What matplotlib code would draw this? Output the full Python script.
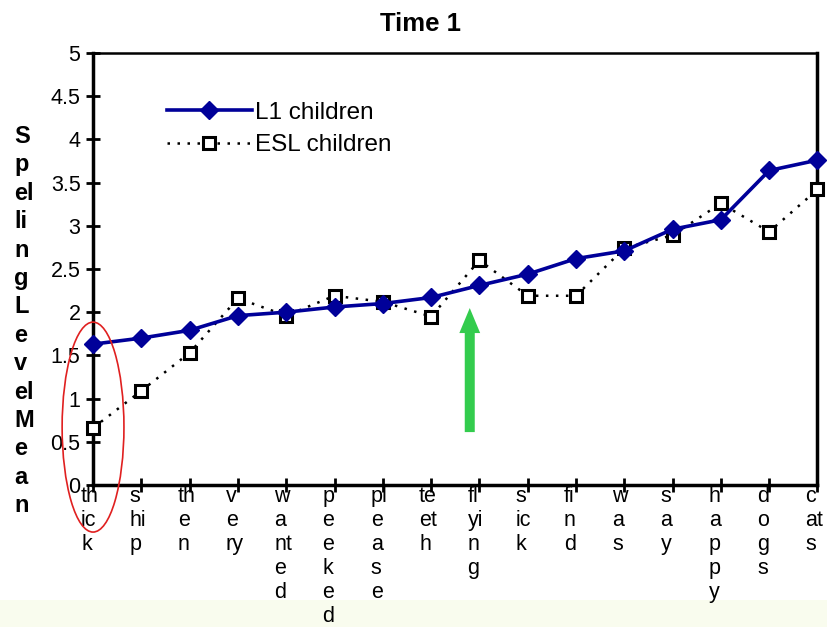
import matplotlib
matplotlib.use("Agg")
import matplotlib.pyplot as plt
from matplotlib.patches import Ellipse, Rectangle
from matplotlib.transforms import ScaledTranslation

# ── data ──────────────────────────────────────────────
words = ["thick", "ship", "then", "very", "wanted", "peeked", "please", "teeth",
         "flying", "sick", "find", "was", "say", "happy", "dogs", "cats"]
tick_labels = ["th\nic\nk", "s\nhi\np", "th\ne\nn", "v\ne\nry", "w\na\nnt\ne\nd",
               "p\ne\ne\nk\ne\nd", "pl\ne\na\ns\ne", "te\net\nh", "fl\nyi\nn\ng",
               "s\nic\nk", "fi\nn\nd", "w\na\ns", "s\na\ny", "h\na\np\np\ny",
               "d\no\ng\ns", "c\nat\ns"]
l1_children = [1.63, 1.70, 1.79, 1.96, 2.00, 2.06, 2.10, 2.17,
               2.31, 2.44, 2.62, 2.71, 2.96, 3.07, 3.64, 3.76]
esl_children = [0.66, 1.09, 1.53, 2.16, 1.96, 2.19, 2.12, 1.95,
                2.60, 2.19, 2.19, 2.74, 2.89, 3.26, 2.93, 3.42]
y_ticks = [0, 0.5, 1, 1.5, 2, 2.5, 3, 3.5, 4, 4.5, 5]
y_tick_labels = ["0", "0.5", "1", "1.5", "2", "2.5", "3", "3.5", "4", "4.5", "5"]

plt.rcParams["font.family"] = ["Liberation Sans", "DejaVu Sans"]

fig = plt.figure(figsize=(8.27, 6.27), dpi=100)
fig.patch.set_facecolor("white")

# pale band along the bottom (behind everything)
fig.patches.append(Rectangle((0, 0), 1, 27 / 627, transform=fig.transFigure,
                             facecolor="#f9fcee", edgecolor="none", zorder=-5))

ax = fig.add_axes([0.1125, 0.2265, 0.876, 0.689])
ax.patch.set_alpha(0)
x = list(range(len(words)))

ax.plot(x, l1_children, color="#000099", lw=2.6, marker="D", ms=9,
        label="L1 children", zorder=4, clip_on=False)
ax.plot(x, esl_children, color="black", lw=1.8, ls=(0, (1, 3)), marker="s", ms=8.5,
        mfc="white", mec="black", mew=2.2, label="ESL children", zorder=3, clip_on=False)

ax.set_xlim(0, 15)
ax.set_ylim(0, 5)
ax.set_yticks(y_ticks)
ax.set_yticklabels(y_tick_labels)
ax.set_xticks(x)
ax.set_xticklabels(tick_labels)
ax.tick_params(axis="y", direction="inout", length=10, width=2, labelsize=15.5, pad=4)
ax.tick_params(axis="x", direction="inout", length=10, width=2, labelsize=15.5, pad=-4)
for lab in ax.get_xticklabels():
    lab.set_ha("left")
    lab.set_va("top")
    lab.set_multialignment("left")
    lab.set_linespacing(1.18)
    lab.set_transform(lab.get_transform() + ScaledTranslation(-12 / 100, 0, fig.dpi_scale_trans))

for name, sp in ax.spines.items():
    sp.set_color("black")
    sp.set_linewidth(2.5 if name in ("left", "bottom", "right") else 1.8)

leg = ax.legend(loc="upper left", bbox_to_anchor=(0.085, 0.915), frameon=False,
                fontsize=17.5, handlelength=3.5, handletextpad=0.15, labelspacing=0.42,
                borderpad=0)

# red ellipse around the first point
ax.add_patch(Ellipse((0, 0.67), 1.28, 2.43, facecolor="none", edgecolor="#e02020",
                     lw=1.2, clip_on=False, zorder=6))

# green arrow
ax.annotate("", xy=(7.8, 2.08), xytext=(7.8, 0.58),
            arrowprops=dict(arrowstyle="simple,tail_width=0.72,head_width=1.5,head_length=1.8",
                            mutation_scale=10, color="#33cc4d", lw=0))

fig.text(421 / 827, 0.962, "Time 1", ha="center", va="center", fontsize=18.5, fontweight="bold")
fig.text(14 / 827, 0.488, "S\np\nel\nli\nn\ng\nL\ne\nv\nel\nM\ne\na\nn",
         ha="left", va="center", fontsize=17, fontweight="bold", linespacing=1.3)

fig.savefig("out.png", dpi=100, facecolor=fig.get_facecolor())
